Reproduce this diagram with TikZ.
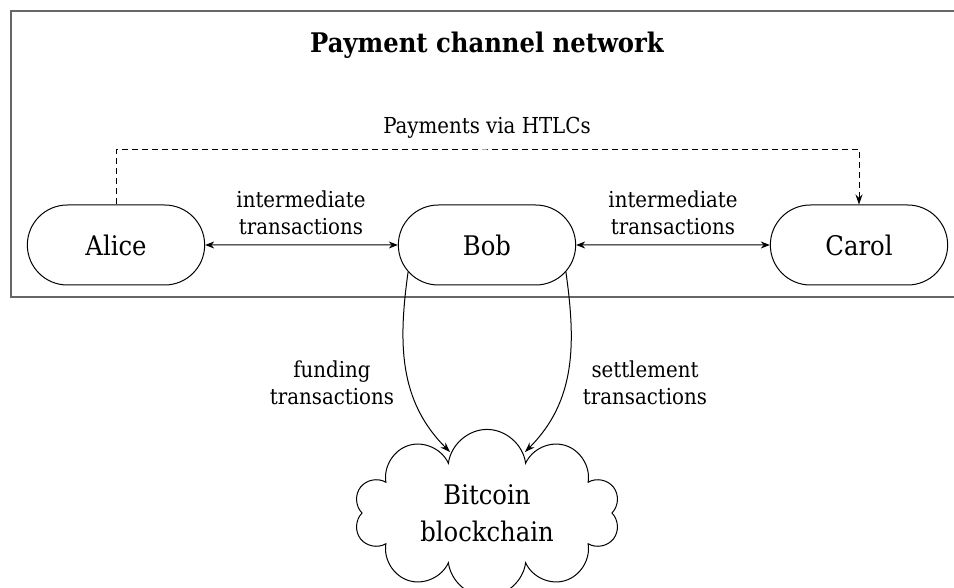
\documentclass[tikz,border=0pt]{standalone}
\usepackage{fontspec}
\setmainfont{DejaVu Serif Condensed}
\usetikzlibrary{arrows.meta,shapes.symbols,shapes.misc}
\tikzset{
  party/.style={rounded rectangle,draw,minimum width=184pt,minimum height=80pt,
    font=\fontsize{27}{32}\selectfont},
  note/.style={align=center,font=\fontsize{22}{27}\selectfont},
  link/.style={{Stealth[length=9pt,width=7pt]}-{Stealth[length=9pt,width=7pt]}},
  flow/.style={-{Stealth[length=10pt,width=7pt]}},
}
\begin{document}
\begin{tikzpicture}[x=1pt,y=-1pt,line width=1pt]
\useasboundingbox (0,0) rectangle (954,588);
% network frame
\draw[black!60,line width=1.5pt] (11,11) rectangle (990,297);
\node (title) at (487,45) {\fontsize{27}{32}\selectfont\bfseries Payment channel network};
\node[party] (alice) at (116,245) {Alice};
\node[party] (bob) at (487,245) {Bob};
\node[party] (carol) at (859,245) {Carol};
% channels
\draw[link] (alice) -- (bob);
\draw[link] (bob) -- (carol);
\node[note] (ab) at (301,213) {intermediate\\transactions};
\node[note] (bc) at (673,213) {intermediate\\transactions};
% routed payment
\node[note] (htlc) at (487,128) {Payments via HTLCs};
\coordinate (via) at (487,150);
\draw[flow,dash pattern=on 6pt off 4pt] (alice.north) |- (via) -| (carol.north);
% blockchain
\node[cloud,draw,cloud puffs=10,cloud puff arc=165,aspect=1.66,minimum width=266pt,minimum height=160pt,
  align=center,font=\fontsize{27}{37}\selectfont] (chain) at (487,513) {Bitcoin\\blockchain};
\path ([xshift=40pt]bob.west) ++(222:40pt) coordinate (fundout);
\path ([xshift=-40pt]bob.east) ++(318:40pt) coordinate (settleout);
\coordinate (fundin) at ([shift={(-37pt,61pt)}]chain.center);
\coordinate (settlein) at ([shift={(38pt,61pt)}]chain.center);
\draw[flow] (fundout) to[out=-98,in=135] (fundin);
\draw[flow] (settleout) to[out=-82,in=45] (settlein);
\node[note] (fund) at (332,383) {funding\\transactions};
\node[note] (settle) at (645,383) {settlement\\transactions};
\end{tikzpicture}
\end{document}
